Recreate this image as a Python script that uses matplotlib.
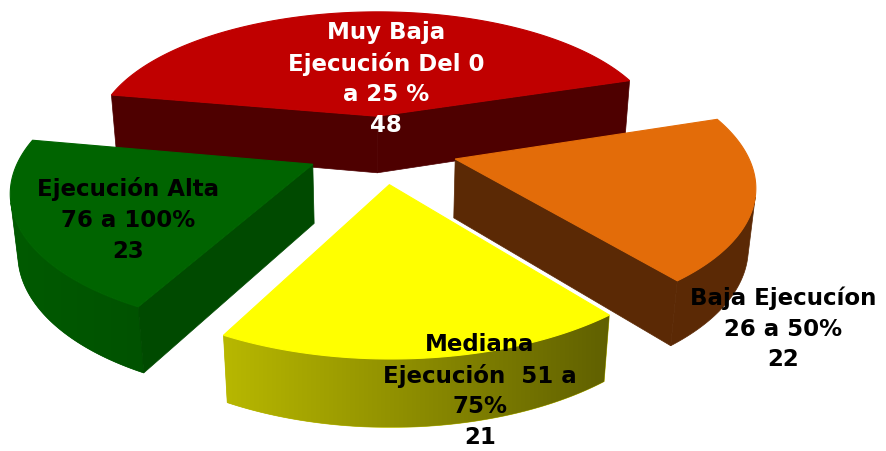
import numpy as np
import matplotlib.pyplot as plt
from matplotlib.colors import LinearSegmentedColormap
from matplotlib.patches import Polygon

# data (counter-clockwise from the start angle)
labels = ["Muy Baja\nEjecución Del 0\na 25 %", "Ejecución Alta\n76 a 100%",
          "Mediana\nEjecución  51 a\n75%", "Baja Ejecucíon\n26 a 50%"]
values = [48, 23, 21, 22]

top_colors = ["#C00000", "#006400", "#FFFF00", "#E36C09"]
wall_colors = ["#4E0000", "#005A00", "#B8B800", "#5B2905"]
wall_colors_end = ["#4E0000", "#005200", "#606000", "#5B2905"]
radial_colors = ["#4E0000", "#004A00", "#8A8A00", "#5B2905"]
text_colors = ["white", "black", "black", "black"]
label_pos = [(386, 79), (128, 220), (480, 391), (783, 329)]

# view settings
START = 18.0
PHI = np.radians(27)
DIST = 5.34
FOCAL = 1550
CX, CY = 382, 149
THICK = 0.23
EXPLODE = 0.26

cam = np.array([0, -DIST * np.cos(PHI), DIST * np.sin(PHI)])


def project(u, v, z):
    depth = DIST + v * np.cos(PHI) - z * np.sin(PHI)
    xs = CX + u * FOCAL / depth
    ys = CY - (v * np.sin(PHI) + z * np.cos(PHI)) * FOCAL / depth
    return np.column_stack([np.atleast_1d(xs), np.atleast_1d(ys)])


def facing(normal, point):
    return np.dot(normal, cam - np.asarray(point)) > 0


fig = plt.figure(figsize=(8.87, 4.51), dpi=100)
ax = fig.add_axes([0, 0, 1, 1])
ax.axis("off")

fracs = np.array(values) / sum(values) * 360
starts = START + np.concatenate([[0], np.cumsum(fracs)[:-1]])

slices = []
for i, (a0, f) in enumerate(zip(starts, fracs)):
    a0 = np.radians(a0)
    a1 = a0 + np.radians(f)
    am = (a0 + a1) / 2
    ox, oy = EXPLODE * np.cos(am), EXPLODE * np.sin(am)
    slices.append((oy, i, a0, a1, ox))

# far slices first
for rank, (oy, i, a0, a1, ox) in enumerate(sorted(slices, reverse=True)):
    z0 = 10 * (rank + 1)
    t = np.linspace(a0, a1, 200)
    u = ox + np.cos(t)
    v = oy + np.sin(t)

    # outer wall: keep only the part that faces the camera
    vis = np.array([facing(np.array([np.cos(a), np.sin(a), 0]),
                           [ox + np.cos(a), oy + np.sin(a), 0]) for a in t])
    if vis.sum() > 1:
        top = project(u[vis], v[vis], np.zeros(vis.sum()))
        bot = project(u[vis], v[vis], np.full(vis.sum(), -THICK))
        pts = np.vstack([top, bot[::-1]])
        wall = Polygon(pts, closed=True, facecolor=wall_colors[i],
                       edgecolor=wall_colors[i], lw=0.5, zorder=z0)
        ax.add_patch(wall)
        if wall_colors[i] != wall_colors_end[i]:
            cmap = LinearSegmentedColormap.from_list(
                "wall", [wall_colors[i], wall_colors_end[i]])
            x0, x1 = pts[:, 0].min(), pts[:, 0].max()
            y0, y1 = pts[:, 1].min(), pts[:, 1].max()
            im = ax.imshow(np.linspace(0, 1, 256)[None, :], cmap=cmap,
                           extent=(x0, x1, y1, y0), aspect="auto",
                           interpolation="bilinear", zorder=z0 + 1)
            im.set_clip_path(wall)

    # radial walls
    for ang, sign in ((a0, 1), (a1, -1)):
        n = np.array([sign * np.sin(ang), -sign * np.cos(ang), 0])
        if not facing(n, [ox, oy, 0]):
            continue
        ex, ey = ox + np.cos(ang), oy + np.sin(ang)
        pts = project(np.array([ox, ex, ex, ox]), np.array([oy, ey, ey, oy]),
                      np.array([0, 0, -THICK, -THICK]))
        ax.add_patch(Polygon(pts, closed=True, facecolor=radial_colors[i],
                             edgecolor=radial_colors[i], lw=0.5, zorder=z0 + 2))

    # top face
    pts = project(np.concatenate([[ox], u]), np.concatenate([[oy], v]),
                  np.zeros(len(u) + 1))
    ax.add_patch(Polygon(pts, closed=True, facecolor=top_colors[i],
                         edgecolor=top_colors[i], lw=0.8, zorder=z0 + 3))

for i, lab in enumerate(labels):
    x, y = label_pos[i]
    ax.text(x, y, f"{lab}\n{values[i]}", ha="center", va="center",
            fontsize=16.5, fontweight="bold", color=text_colors[i],
            linespacing=1.42, family="DejaVu Sans", zorder=100)

ax.set_xlim(0, 887)
ax.set_ylim(451, 0)
fig.savefig("out.png", dpi=100)
